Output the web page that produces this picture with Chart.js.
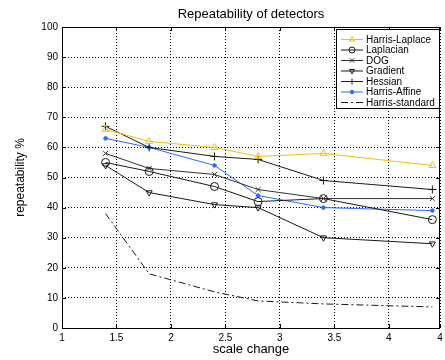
<!DOCTYPE html>
<html>
<head>
<meta charset="utf-8">
<script src="https://cdn.jsdelivr.net/npm/chart.js@4/dist/chart.umd.min.js"></script>
<style>
  html, body { margin: 0; padding: 0; background: #fff; }
  #wrap { width: 445px; height: 360px; position: relative; }
</style>
</head>
<body>
<div id="wrap"><canvas id="chart"></canvas></div>
<script>
// scale change values where detectors were measured
const scaleX = [1.4, 1.8, 2.4, 2.8, 3.4, 4.4];

// repeatability % per detector
const harrisLaplace  = [66, 62, 60, 57, 58, 54];
const laplacian      = [55, 52, 47, 42, 43, 36];
const dog            = [58, 53, 51, 46, 43, 43];
const gradient       = [54, 45, 41, 40, 30, 28];
const hessian        = [67, 60, 57, 56, 49, 46];
const harrisAffine   = [63, 60, 54, 44, 40, 39];
const harrisStandard = [38, 18, 12, 9, 8, 7];

const xTicks = [1, 1.5, 2, 2.5, 3, 3.5, 4, 4.47];
const xTickLabels = ['1', '1.5', '2', '2.5', '3', '3.5', '4', '4'];

const chartTitle = 'Repeatability of detectors';
const FONT = "'Liberation Sans', Arial, sans-serif";

function pts(values) {
    return values.map((v, i) => ({ x: scaleX[i], y: v }));
}

function series(label, values, color, style, extra) {
    return Object.assign({
        label: label,
        data: pts(values),
        borderColor: color,
        backgroundColor: 'rgba(0,0,0,0)',
        pointBorderColor: color,
        pointBackgroundColor: 'rgba(0,0,0,0)',
        borderWidth: 1,
        pointBorderWidth: 1,
        pointStyle: style,
        pointRadius: 4,
        tension: 0,
        fill: false
    }, extra || {});
}

// title over the axes, frame, inward ticks and the boxed legend
const frameLegend = {
    id: 'frameLegend',
    afterDraw(chart) {
        const ctx = chart.ctx;
        const a = chart.chartArea;
        const xs = chart.scales.x, ys = chart.scales.y;
        ctx.save();
        ctx.fillStyle = '#000';
        ctx.font = '13px ' + FONT;
        ctx.textAlign = 'center';
        ctx.textBaseline = 'alphabetic';
        ctx.fillText(chartTitle, (a.left + a.right) / 2, 18);

        ctx.strokeStyle = '#000';
        ctx.lineWidth = 1;
        ctx.setLineDash([]);
        ctx.strokeRect(Math.round(a.left) + 0.5, Math.round(a.top) + 0.5,
                       Math.round(a.right - a.left) - 1, Math.round(a.bottom - a.top));
        ctx.beginPath();
        xs.ticks.forEach(t => {
            const px = Math.round(xs.getPixelForValue(t.value)) + 0.5;
            ctx.moveTo(px, a.bottom); ctx.lineTo(px, a.bottom - 4);
            ctx.moveTo(px, a.top); ctx.lineTo(px, a.top + 4);
        });
        ys.ticks.forEach(t => {
            const py = Math.round(ys.getPixelForValue(t.value)) + 0.5;
            ctx.moveTo(a.left, py); ctx.lineTo(a.left + 4, py);
            ctx.moveTo(a.right, py); ctx.lineTo(a.right - 4, py);
        });
        ctx.stroke();

        // legend box
        const bx = 336.5, by = 29.5, bw = Math.round(a.right) - 337, bh = 79;
        ctx.fillStyle = '#fff';
        ctx.fillRect(bx, by, bw, bh);
        ctx.strokeRect(bx, by, bw, bh);
        ctx.font = '10px ' + FONT;
        ctx.textBaseline = 'middle';
        ctx.textAlign = 'left';
        chart.data.datasets.forEach((ds, i) => {
            const y = 39.5 + i * 10.5;
            ctx.save();
            ctx.strokeStyle = ds.borderColor;
            ctx.lineWidth = 1;
            ctx.setLineDash(ds.borderDash || []);
            ctx.beginPath();
            ctx.moveTo(341, y); ctx.lineTo(363, y);
            ctx.stroke();
            ctx.setLineDash([]);
            if (ds.pointRadius > 0) {
                ctx.strokeStyle = ds.pointBorderColor;
                ctx.fillStyle = ds.pointBackgroundColor;
                Chart.helpers.drawPoint(ctx, {
                    pointStyle: ds.pointStyle,
                    radius: Math.min(ds.pointRadius, 3),
                    rotation: ds.rotation || 0,
                    borderWidth: 1
                }, 352, y);
            }
            ctx.restore();
            ctx.fillStyle = '#000';
            ctx.fillText(ds.label, 366, y + 0.5);
        });
        ctx.restore();
    }
};

new Chart(document.getElementById('chart'), {
    type: 'line',
    data: {
        datasets: [
            series('Harris-Laplace', harrisLaplace, '#f2bd12', 'triangle'),
            series('Laplacian', laplacian, '#1a1a1a', 'circle'),
            series('DOG', dog, '#333333', 'crossRot', { pointRadius: 3.5 }),
            series('Gradient', gradient, '#1a1a1a', 'triangle', { rotation: 180, pointRadius: 3.5 }),
            series('Hessian', hessian, '#1a1a1a', 'cross'),
            series('Harris-Affine', harrisAffine, '#2a6df4', 'circle',
                   { pointRadius: 1.8, pointBackgroundColor: '#2a6df4' }),
            series('Harris-standard', harrisStandard, '#1a1a1a', 'circle',
                   { pointRadius: 0, borderDash: [7, 3, 2, 3] })
        ]
    },
    options: {
        responsive: true,
        maintainAspectRatio: false,
        animation: false,
        events: [],
        layout: { padding: { top: 27, right: 2, bottom: 0, left: 0 } },
        plugins: {
            legend: { display: false },
            tooltip: { enabled: false },
            title: { display: false }
        },
        scales: {
            x: {
                type: 'linear',
                min: 1,
                max: 4.47,
                afterBuildTicks: s => { s.ticks = xTicks.map(v => ({ value: v })); },
                afterFit: s => { s.height = 32; s.paddingLeft = 0; s.paddingRight = 0; },
                ticks: {
                    autoSkip: false,
                    maxRotation: 0,
                    padding: 4,
                    color: '#000',
                    font: { family: FONT, size: 10 },
                    callback: (v, i) => xTickLabels[i]
                },
                grid: { color: '#000', drawTicks: false, lineWidth: 1 },
                border: { display: false, dash: [1, 2] },
                title: {
                    display: true,
                    text: 'scale change',
                    color: '#000',
                    font: { family: FONT, size: 13 },
                    padding: { top: 0, bottom: 3 }
                }
            },
            y: {
                min: 0,
                max: 100,
                afterFit: s => { s.width = 62; s.paddingTop = 0; s.paddingBottom = 0; },
                ticks: {
                    stepSize: 10,
                    padding: 4,
                    color: '#000',
                    font: { family: FONT, size: 10 }
                },
                grid: { color: '#000', drawTicks: false, lineWidth: 1 },
                border: { display: false, dash: [1, 2] },
                title: {
                    display: true,
                    text: 'repeatability %',
                    color: '#000',
                    font: { family: FONT, size: 12 },
                    padding: { top: 13, bottom: 0 }
                }
            }
        }
    },
    plugins: [frameLegend]
});
</script>
</body>
</html>
